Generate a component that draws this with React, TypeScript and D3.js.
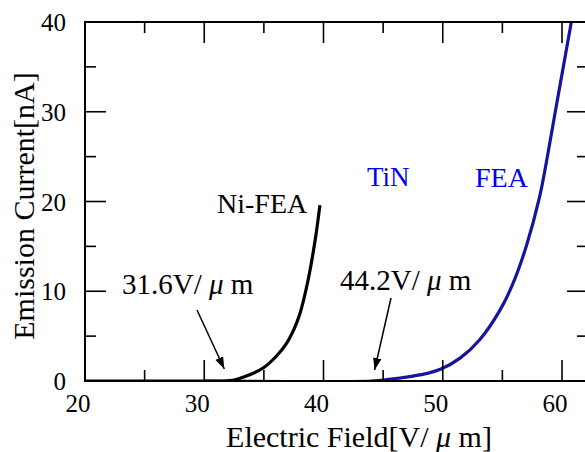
import * as d3 from "d3";
import { useEffect, useRef } from "react";

// data (E field in V/um, current in nA)
const niField = [20, 30, 31.6, 32.5, 33, 34, 35, 36, 36.9, 37.5, 38, 38.7, 39.3, 39.7];
const niCurrent = [0, 0, 0, 0.1, 0.3, 0.8, 1.5, 2.7, 4.2, 5.7, 7.4, 11.2, 15.7, 19.6];

const tinField = [30, 44, 45.3, 47.5, 48.7, 49.8, 51.45, 53.1, 54.8, 55.9, 57, 58.1, 58.72, 59.41, 60.11, 60.81, 61.1];
const tinCurrent = [0, 0, 0.15, 0.55, 0.85, 1.3, 2.55, 4.6, 7.9, 10.9, 15, 20.4, 24.6, 29.8, 35, 40.2, 42.3];

const xTicks = [20, 30, 40, 50, 60];
const yTicks = [0, 10, 20, 30, 40];
const onsetLabels = ["31.6", "44.2"];

const W = 585;
const H = 452;
const FONT = "'Liberation Serif', 'Times New Roman', Times, 'DejaVu Serif', serif";

const App = () => {
	const ref = useRef<SVGSVGElement>(null);

	useEffect(() => {
		const svg = d3.select(ref.current);
		svg.selectAll("*").remove();

		const left = 85, right = 588, top = 22, bottom = 381;
		const x = d3.scaleLinear().domain([20, 62.18]).range([left, right]);
		const y = d3.scaleLinear().domain([0, 40]).range([bottom, top]);

		const defs = svg.append("defs");
		defs.append("clipPath").attr("id", "plot")
			.append("rect").attr("x", left).attr("y", top)
			.attr("width", right - left).attr("height", bottom - top);
		defs.append("marker").attr("id", "head")
			.attr("viewBox", "0 0 10 10").attr("refX", 10).attr("refY", 5)
			.attr("markerWidth", 12).attr("markerHeight", 12)
			.attr("markerUnits", "userSpaceOnUse")
			.attr("orient", "auto")
			.append("path").attr("d", "M0,1.5 L10,5 L0,8.5 Z").attr("fill", "#000");

		// curves
		const line = d3.line<[number, number]>()
			.x(d => x(d[0])).y(d => y(d[1]))
			.curve(d3.curveCatmullRom.alpha(0.5));

		const g = svg.append("g").attr("clip-path", "url(#plot)");
		g.append("path")
			.attr("d", line(tinField.map((v, i) => [v, tinCurrent[i]] as [number, number])))
			.attr("fill", "none").attr("stroke", "#1414a0").attr("stroke-width", 3.2);
		g.append("path")
			.attr("d", line(niField.map((v, i) => [v, niCurrent[i]] as [number, number])))
			.attr("fill", "none").attr("stroke", "#000").attr("stroke-width", 3.2);

		// frame with inward ticks on all four sides
		svg.append("rect")
			.attr("x", left).attr("y", top)
			.attr("width", right - left).attr("height", bottom - top)
			.attr("fill", "none").attr("stroke", "#000").attr("stroke-width", 2);

		const ticks = svg.append("g").attr("stroke", "#000").attr("stroke-width", 1.6);
		d3.range(20, 62, 5).forEach(v => {
			const len = v % 10 === 0 ? 21 : 11;
			ticks.append("line").attr("x1", x(v)).attr("x2", x(v))
				.attr("y1", bottom).attr("y2", bottom - len);
			ticks.append("line").attr("x1", x(v)).attr("x2", x(v))
				.attr("y1", top).attr("y2", top + len);
		});
		d3.range(0, 41, 5).forEach(v => {
			const len = v % 10 === 0 ? 21 : 11;
			ticks.append("line").attr("y1", y(v)).attr("y2", y(v))
				.attr("x1", left).attr("x2", left + len);
			ticks.append("line").attr("y1", y(v)).attr("y2", y(v))
				.attr("x1", right).attr("x2", right - len);
		});

		const txt = (sel: any, size: number) =>
			sel.attr("font-family", FONT).attr("font-size", size);

		// tick labels
		txt(svg.selectAll(".xl").data(xTicks).enter().append("text")
			.attr("x", (d: number) => x(d) - 7).attr("y", 412)
			.attr("text-anchor", "middle"), 25)
			.text((d: number) => d);
		txt(svg.selectAll(".yl").data(yTicks).enter().append("text")
			.attr("x", 66).attr("y", (d: number) => y(d) + 9)
			.attr("text-anchor", "end"), 25)
			.text((d: number) => d);

		// axis titles
		const xt = txt(svg.append("text")
			.attr("x", 359).attr("y", 447).attr("text-anchor", "middle"), 30);
		xt.append("tspan").text("Electric Field[V/ ");
		xt.append("tspan").attr("font-style", "italic").text("μ");
		xt.append("tspan").text(" m]");

		txt(svg.append("text")
			.attr("transform", "translate(34,206) rotate(-90)")
			.attr("text-anchor", "middle"), 30)
			.text("Emission Current[nA]");

		// series labels
		txt(svg.append("text").attr("x", 217).attr("y", 213), 28).text("Ni-FEA");
		txt(svg.append("text").attr("x", 367).attr("y", 186).attr("fill", "#0000f0"), 27).text("TiN");
		txt(svg.append("text").attr("x", 475).attr("y", 187).attr("fill", "#0000f0"), 28).text("FEA");

		// onset annotations
		const notes = [
			{ label: onsetLabels[0], tx: 122, ty: 294, x1: 197, y1: 310, x2: x(31.6) + 1, y2: 369 },
			{ label: onsetLabels[1], tx: 340, ty: 290, x1: 391, y1: 298, x2: x(44.2) + 1, y2: 370 },
		];
		notes.forEach(n => {
			const t = txt(svg.append("text").attr("x", n.tx).attr("y", n.ty), 29);
			t.append("tspan").text(n.label + "V/ ");
			t.append("tspan").attr("font-style", "italic").text("μ");
			t.append("tspan").text(" m");
			svg.append("line")
				.attr("x1", n.x1).attr("y1", n.y1).attr("x2", n.x2).attr("y2", n.y2)
				.attr("stroke", "#000").attr("stroke-width", 1.5)
				.attr("marker-end", "url(#head)");
		});
	}, []);

	return (
		<svg ref={ref} width={W} height={H}
			style={{ position: "absolute", left: 0, top: 0, background: "#fff" }} />
	);
};

export default App;
